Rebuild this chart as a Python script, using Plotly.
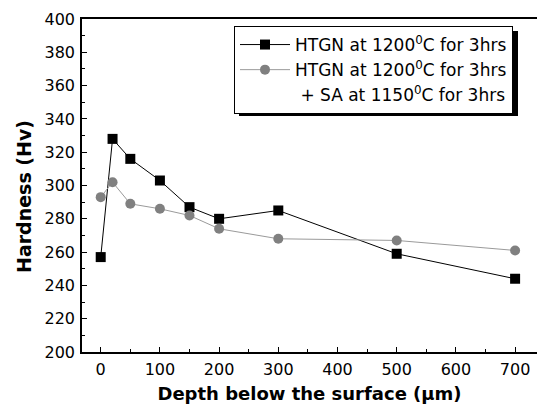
import plotly.graph_objects as go

depth = [0, 20, 50, 100, 150, 200, 300, 500, 700]
htgn = [257, 328, 316, 303, 287, 280, 285, 259, 244]
htgn_sa = [293, 302, 289, 286, 282, 274, 268, 267, 261]

name1 = "HTGN at 1200<sup>0</sup>C for 3hrs"
name2 = "HTGN at 1200<sup>0</sup>C for 3hrs"
name3 = "&nbsp;+ SA at 1150<sup>0</sup>C for 3hrs"

W, H = 537, 409
ML, MR, MT, MB = 82, 0, 19, 57
PW, PH = W - ML - MR, H - MT - MB

def px(x):
    return (x - ML) / PW

def py(y):
    return (H - MB - y) / PH

FONT = "DejaVu Sans, Arial, sans-serif"

fig = go.Figure()
fig.add_trace(go.Scatter(
    x=depth, y=htgn, name=name1, mode="lines+markers",
    line=dict(color="black", width=1),
    marker=dict(symbol="square", size=10, color="black"),
))
fig.add_trace(go.Scatter(
    x=depth, y=htgn_sa, name=name2, mode="lines+markers",
    line=dict(color="#9a9a9a", width=1),
    marker=dict(symbol="circle", size=10, color="#808080"),
))
fig.add_trace(go.Scatter(
    x=[None], y=[None], name=name3, mode="lines",
    line=dict(color="rgba(0,0,0,0)", width=0),
    hoverinfo="skip",
))

# legend shadow
fig.add_shape(type="rect", xref="paper", yref="paper",
              x0=px(239), x1=px(518), y0=py(116), y1=py(31),
              fillcolor="black", line=dict(width=0), layer="above")

fig.add_annotation(
    text="<b>Hardness (Hv)</b>", textangle=-90,
    xref="paper", yref="paper", x=px(24), y=py(197), xanchor="center", yanchor="middle",
    showarrow=False, font=dict(family=FONT, size=19, color="black"),
)

fig.update_layout(
    width=W, height=H,
    margin=dict(l=ML, r=MR, t=MT, b=MB, pad=0, autoexpand=False),
    paper_bgcolor="white", plot_bgcolor="white",
    font=dict(family=FONT, color="black", size=15),
    showlegend=True,
    legend=dict(
        x=px(234), y=py(26), xanchor="left", yanchor="top",
        bgcolor="white", bordercolor="black", borderwidth=1,
        font=dict(family=FONT, size=17, color="black"),
        tracegroupgap=0, itemwidth=50,
    ),
    xaxis=dict(
        range=[-31.6, 737], showgrid=False, zeroline=False, automargin=False,
        showline=True, linecolor="black", linewidth=1.5, mirror=True,
        ticks="inside", ticklen=5, tickwidth=1, tickcolor="black",
        tick0=0, dtick=100,
        minor=dict(ticks="inside", ticklen=3, dtick=50, tick0=0, tickcolor="black", showgrid=False),
        tickfont=dict(family=FONT, size=16, color="black"),
        title=dict(text="<b>Depth below the surface (μm)</b>",
                   font=dict(family=FONT, size=18, color="black"), standoff=9),
        ticklabelstandoff=2,
    ),
    yaxis=dict(
        range=[200, 400], showgrid=False, zeroline=False, automargin=False,
        showline=True, linecolor="black", linewidth=1.5, mirror=False,
        ticks="inside", ticklen=5, tickwidth=1, tickcolor="black",
        tick0=200, dtick=20,
        minor=dict(ticks="inside", ticklen=3, dtick=10, tick0=200, tickcolor="black", showgrid=False),
        tickfont=dict(family=FONT, size=16, color="black"),
        ticklabelstandoff=2,
    ),
)

fig.write_html("out.html", config={"displayModeBar": False},
               post_script="document.body.style.margin='0';document.body.style.overflow='hidden';")
